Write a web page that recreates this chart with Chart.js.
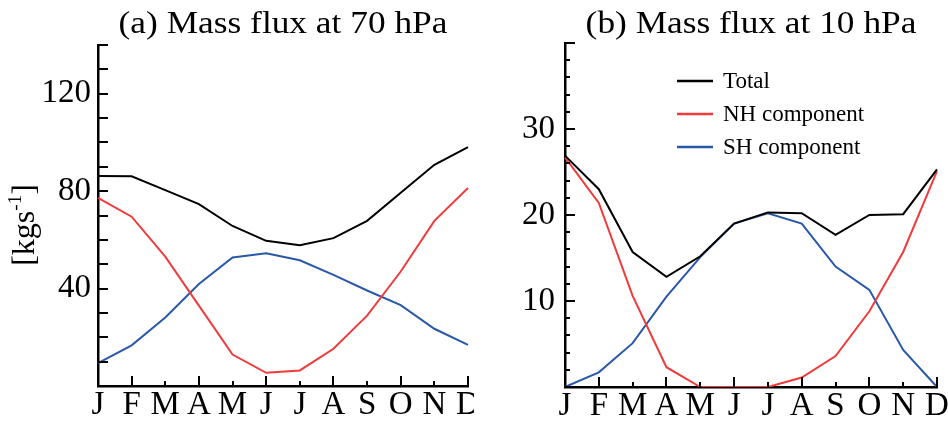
<!DOCTYPE html>
<html>
<head>
<meta charset="utf-8">
<script src="https://cdn.jsdelivr.net/npm/chart.js@4.4.0/dist/chart.umd.min.js"></script>
<style>
  html, body { margin: 0; padding: 0; background: #fff; }
  #wrap { position: relative; width: 948px; height: 423px; overflow: hidden; }
  .panel { position: absolute; top: 0; width: 474px; height: 423px; }
  #panelA { left: 0; }
  #panelB { left: 474px; }
</style>
</head>
<body>
<div id="wrap">
  <div class="panel" id="panelA"><canvas id="chartA" width="474" height="423"></canvas></div>
  <div class="panel" id="panelB"><canvas id="chartB" width="474" height="423"></canvas></div>
</div>
<script>
const months = ['J', 'F', 'M', 'A', 'M', 'J', 'J', 'A', 'S', 'O', 'N', 'D'];

// (a) 70 hPa
const total70 = [86.2, 86.1, 80.4, 74.7, 65.7, 59.6, 57.8, 60.7, 67.8, 79.3, 90.8, 98.1];
const nh70 = [77.2, 69.5, 53.1, 33.0, 12.9, 5.4, 6.4, 15.3, 28.9, 47.0, 67.8, 81.3];
const sh70 = [9.4, 16.7, 28.1, 41.9, 52.8, 54.5, 51.6, 45.6, 39.2, 33.2, 23.5, 16.9];

// (b) 10 hPa
const total10 = [26.9, 23.0, 15.7, 12.8, 15.2, 19.0, 20.3, 20.2, 17.7, 20.0, 20.1, 25.3];
const nh10 = [26.7, 21.4, 10.6, 2.3, 0.0, 0.0, 0.0, 1.1, 3.6, 8.8, 15.7, 25.1];
const sh10 = [0.0, 1.7, 5.1, 10.5, 15.1, 19.0, 20.2, 19.0, 14.0, 11.3, 4.3, 0.0];

const seriesNames = ['Total', 'NH component', 'SH component'];
const seriesColors = ['#000000', '#ef3b3b', '#2a58a8'];

const serif = '"Liberation Serif", "Times New Roman", serif';

// tick marks pointing into the plot
const inwardTicks = {
    id: 'inwardTicks',
    afterDatasetsDraw(chart, args, opts) {
        const { ctx, chartArea, scales } = chart;
        const x = scales.x, y = scales.y;
        ctx.save();
        ctx.strokeStyle = '#000';
        ctx.lineWidth = 2;
        for (let v = y.min; v <= y.max + 1e-9; v += opts.yStep) {
            const py = Math.round(y.getPixelForValue(v));
            const len = (Math.round(v) % opts.yMajor === 0) ? 10 : 5;
            ctx.beginPath();
            ctx.moveTo(chartArea.left, py);
            ctx.lineTo(chartArea.left + len, py);
            ctx.stroke();
        }
        for (let i = 1; i < months.length; i++) {
            const px = Math.round(x.getPixelForValue(i));
            const len = i % 2 ? 10 : 5;
            ctx.beginPath();
            ctx.moveTo(px, chartArea.bottom);
            ctx.lineTo(px, chartArea.bottom - len);
            ctx.stroke();
        }
        ctx.restore();
    }
};

// panel title, slightly wide like the original lettering
const panelTitle = {
    id: 'panelTitle',
    afterDraw(chart, args, opts) {
        const { ctx, chartArea } = chart;
        const cx = (chartArea.left + chartArea.right) / 2;
        ctx.save();
        ctx.font = '31px ' + serif;
        ctx.fillStyle = '#000';
        ctx.textAlign = 'center';
        ctx.textBaseline = 'alphabetic';
        ctx.translate(cx, opts.baseline);
        ctx.scale(opts.stretch, 1);
        ctx.fillText(opts.text, 0, 0);
        ctx.restore();
    }
};

// rotated unit label with superscript
const unitLabel = {
    id: 'unitLabel',
    afterDraw(chart, args, opts) {
        if (!opts.display) return;
        const ctx = chart.ctx;
        ctx.save();
        ctx.fillStyle = '#000';
        ctx.textBaseline = 'middle';
        ctx.translate(opts.x, opts.y);
        ctx.rotate(-Math.PI / 2);
        ctx.font = '32px ' + serif;
        const w1 = ctx.measureText('[kgs').width;
        const w3 = ctx.measureText(']').width;
        ctx.font = '19px ' + serif;
        const w2 = ctx.measureText('-1').width;
        let x0 = -(w1 + w2 + w3) / 2;
        ctx.font = '32px ' + serif;
        ctx.fillText('[kgs', x0, 0);
        ctx.font = '19px ' + serif;
        ctx.fillText('-1', x0 + w1, -10);
        ctx.font = '32px ' + serif;
        ctx.fillText(']', x0 + w1 + w2, 0);
        ctx.restore();
    }
};

// legend drawn inside the plot, line + text
const lineLegend = {
    id: 'lineLegend',
    afterDraw(chart, args, opts) {
        if (!opts.display) return;
        const ctx = chart.ctx;
        ctx.save();
        ctx.font = '23px ' + serif;
        ctx.textBaseline = 'middle';
        chart.data.datasets.forEach((ds, i) => {
            const y = opts.y + i * opts.gap;
            ctx.strokeStyle = ds.borderColor;
            ctx.lineWidth = 2.5;
            ctx.beginPath();
            ctx.moveTo(opts.x, y);
            ctx.lineTo(opts.x + 36, y);
            ctx.stroke();
            ctx.fillStyle = '#000';
            ctx.fillText(ds.label, opts.x + 46, y + 1);
        });
        ctx.restore();
    }
};

function makeChart(canvasId, p) {
    const ctx = document.getElementById(canvasId).getContext('2d');
    const values = [p.total, p.nh, p.sh];
    return new Chart(ctx, {
        type: 'line',
        data: {
            labels: months,
            datasets: values.map((v, i) => ({
                label: seriesNames[i],
                data: v,
                borderColor: seriesColors[i],
                backgroundColor: seriesColors[i],
                borderWidth: 2,
                pointRadius: 0,
                tension: 0,
                fill: false
            }))
        },
        options: {
            responsive: false,
            animation: false,
            devicePixelRatio: 1,
            layout: { padding: { left: 0, right: p.padRight, top: p.padTop, bottom: 0 } },
            plugins: {
                legend: { display: false },
                tooltip: { enabled: false },
                title: { display: false },
                inwardTicks: { yStep: p.yStep, yMajor: p.yMajor },
                panelTitle: { text: p.title, baseline: 33, stretch: 1.14 },
                unitLabel: { display: p.unit, x: 26, y: 225 },
                lineLegend: { display: p.legend, x: 203, y: 81, gap: 33 }
            },
            scales: {
                x: {
                    grid: { display: false, drawTicks: false },
                    border: { display: true, color: '#000', width: 2.5 },
                    ticks: {
                        autoSkip: false,
                        maxRotation: 0,
                        color: '#000',
                        padding: 0,
                        font: { family: serif, size: 33 }
                    },
                    afterFit(scale) {
                        scale.height = p.xHeight;
                        scale.paddingLeft = 0;
                        scale.paddingRight = 0;
                    }
                },
                y: {
                    min: 0,
                    max: p.yMax,
                    grid: { display: false, drawTicks: false },
                    border: { display: true, color: '#000', width: 2.5 },
                    ticks: {
                        stepSize: p.labelStep,
                        color: '#000',
                        padding: p.yPad,
                        font: { family: serif, size: 33 },
                        callback: v => (v > 0 && v < p.yMax) ? v : ''
                    },
                    afterFit(scale) {
                        scale.width = p.yWidth;
                        scale.paddingTop = 0;
                        scale.paddingBottom = 0;
                    }
                }
            }
        },
        plugins: [inwardTicks, panelTitle, unitLabel, lineLegend]
    });
}

makeChart('chartA', {
    total: total70, nh: nh70, sh: sh70,
    title: '(a) Mass flux at 70 hPa',
    yMax: 140, labelStep: 40, yStep: 10, yMajor: 10,
    yWidth: 98, yPad: 7, xHeight: 37, padTop: 45, padRight: 6,
    unit: true, legend: false
});

makeChart('chartB', {
    total: total10, nh: nh10, sh: sh10,
    title: '(b) Mass flux at 10 hPa',
    yMax: 40, labelStep: 10, yStep: 2, yMajor: 10,
    yWidth: 91, yPad: 10, xHeight: 36, padTop: 43, padRight: 11,
    unit: false, legend: true
});
</script>
</body>
</html>
